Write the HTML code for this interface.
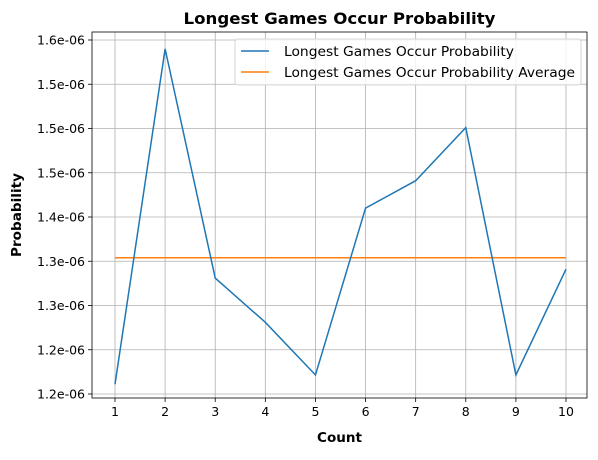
<!DOCTYPE html>
<html><head><meta charset="utf-8"><style>
body{margin:0;background:#fff;font-family:"Liberation Sans","DejaVu Sans",sans-serif;}
svg text{font-family:"DejaVu Sans","Liberation Sans",sans-serif;}
</style></head><body>
<svg id="chart" width="598" height="455" viewBox="0 0 598 455" xmlns="http://www.w3.org/2000/svg"></svg>
<script>
const categories=[1,2,3,4,5,6,7,8,9,10];
const probValues=[1.211e-6,1.590e-6,1.331e-6,1.281e-6,1.2215e-6,1.410e-6,1.441e-6,1.501e-6,1.2215e-6,1.341e-6];
const averageValue=1.354e-6;
const yTickValues=[1.2e-6,1.25e-6,1.3e-6,1.35e-6,1.4e-6,1.45e-6,1.5e-6,1.55e-6,1.6e-6];
const yTickLabels=["1.2e-06","1.2e-06","1.3e-06","1.3e-06","1.4e-06","1.5e-06","1.5e-06","1.5e-06","1.6e-06"];

const L=92,R=587,T=32,B=398;
const xs=v=>115+(v-1)*(566-115)/9;
const ys=v=>394-(v-1.2e-6)/0.05e-6*44.25;
const svg=document.getElementById('chart');
const NS='http://www.w3.org/2000/svg';
function mk(tag,attrs,parent){const e=document.createElementNS(NS,tag);for(const k in attrs)e.setAttribute(k,attrs[k]);(parent||svg).appendChild(e);return e;}

const grid=mk('g',{});


categories.forEach(c=>{mk('line',{x1:xs(c),x2:xs(c),y1:T,y2:B,stroke:'#b0b0b0','stroke-width':0.8},grid);});
yTickValues.forEach(v=>{mk('line',{x1:L,x2:R,y1:ys(v),y2:ys(v),stroke:'#b0b0b0','stroke-width':0.8},grid);});

const xt=mk('g',{});


categories.forEach(c=>{mk('line',{x1:xs(c),x2:xs(c),y1:B,y2:B+4,stroke:'#000','stroke-width':0.8},xt);
const t=mk('text',{x:xs(c),y:B+18,'font-size':12.5,'text-anchor':'middle'},xt);t.textContent=c;});
const yt=mk('g',{});


yTickValues.forEach((v,i)=>{mk('line',{x1:L-4,x2:L,y1:ys(v),y2:ys(v),stroke:'#000','stroke-width':0.8},yt);
const t=mk('text',{x:L-7,y:ys(v)+4.5,'font-size':12.5,'text-anchor':'end'},yt);t.textContent=yTickLabels[i];});

const avg=mk('line',{x1:xs(categories[0]),x2:xs(categories[categories.length-1]),y1:ys(averageValue),y2:ys(averageValue),stroke:'#ff7f0e','stroke-width':1.5});


const pl=mk('polyline',{points:categories.map((c,i)=>xs(c)+','+ys(probValues[i])).join(' '),fill:'none',stroke:'#1f77b4','stroke-width':1.5});



const frame=mk('rect',{x:L,y:T,width:R-L,height:B-T,fill:'none',stroke:'#000','stroke-width':0.8});



const title=mk('text',{x:(L+R)/2,y:24,'font-size':16,'font-weight':'bold','text-anchor':'middle',textLength:312,lengthAdjust:'spacingAndGlyphs'});
title.textContent='Longest Games Occur Probability';


const xl=mk('text',{x:(L+R)/2,y:442,'font-size':13.5,'font-weight':'bold','text-anchor':'middle',textLength:45,lengthAdjust:'spacingAndGlyphs'});
xl.textContent='Count';


const yl=mk('text',{x:21,y:(T+B)/2,'font-size':13.5,'font-weight':'bold','text-anchor':'middle',textLength:84,lengthAdjust:'spacingAndGlyphs',transform:'rotate(-90 21 '+((T+B)/2)+')'});
yl.textContent='Probability';



const lg=mk('g',{});


mk('rect',{x:235,y:39,width:346,height:46,rx:3,fill:'#fff','fill-opacity':0.8,stroke:'#ccc','stroke-width':0.8},lg);
const e1=mk('g',{},lg);


mk('line',{x1:241,x2:269,y1:51,y2:51,stroke:'#1f77b4','stroke-width':1.5},e1);
const t1=mk('text',{x:284,y:56,'font-size':13.5,textLength:230,lengthAdjust:'spacingAndGlyphs'},e1);t1.textContent='Longest Games Occur Probability';
const e2=mk('g',{},lg);


mk('line',{x1:241,x2:269,y1:72,y2:72,stroke:'#ff7f0e','stroke-width':1.5},e2);
const t2=mk('text',{x:284,y:77,'font-size':13.5,textLength:291,lengthAdjust:'spacingAndGlyphs'},e2);t2.textContent='Longest Games Occur Probability Average';
</script>
</body></html>
